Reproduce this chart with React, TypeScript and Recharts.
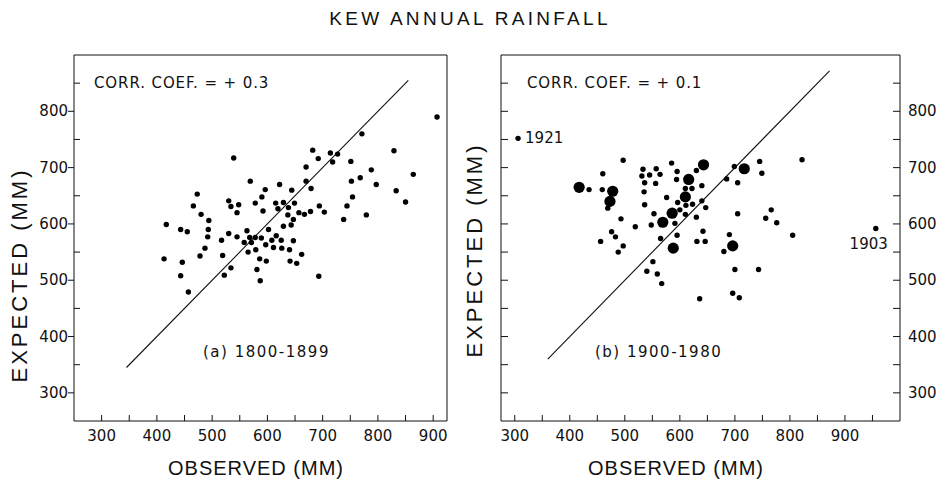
import React from "react";
import { ScatterChart, Scatter, XAxis, YAxis, ReferenceArea, ReferenceLine } from "recharts";

const INK = "#111";
const TICK_FONT = "'DejaVu Sans', sans-serif";
const TITLE_FONT = "'Liberation Sans', Arial, sans-serif";

// tick positions (labels only on the hundreds)
const obsTicksA = [300, 350, 400, 450, 500, 550, 600, 650, 700, 750, 800, 850, 900];
const obsTicksB = [300, 350, 400, 450, 500, 550, 600, 650, 700, 750, 800, 850, 900, 950];
const expTicks = [300, 350, 400, 450, 500, 550, 600, 650, 700, 750, 800, 850];
const labelledTicks = [300, 400, 500, 600, 700, 800, 900];

// (a) 1800-1899: [observed, expected] in mm
const years1800: [number, number][] = [
  [907, 790], [771, 760], [682, 731], [692, 716], [714, 726], [727, 724], [718, 710],
  [539, 717], [829, 730], [751, 711], [670, 701], [788, 696], [864, 688], [752, 676],
  [768, 682], [797, 670], [670, 676], [679, 663], [569, 676], [622, 670], [644, 660],
  [596, 661], [590, 648], [473, 653], [833, 659], [850, 639], [754, 648], [744, 632],
  [779, 616], [738, 608], [466, 632], [530, 641], [534, 631], [548, 634], [545, 620],
  [578, 637], [592, 623], [615, 637], [629, 638], [638, 629], [649, 637], [637, 616],
  [647, 608], [657, 620], [667, 617], [678, 622], [694, 632], [703, 621], [480, 617],
  [494, 606], [493, 590], [492, 577], [417, 599], [443, 590], [455, 586], [629, 596],
  [643, 598], [602, 590], [563, 588], [530, 583], [545, 577], [517, 571], [558, 567],
  [568, 576], [571, 567], [578, 576], [589, 575], [597, 563], [608, 571], [616, 579],
  [611, 558], [625, 571], [626, 557], [647, 570], [640, 554], [565, 550], [579, 554],
  [487, 557], [478, 543], [519, 544], [586, 538], [598, 534], [641, 534], [653, 530],
  [662, 546], [413, 538], [446, 532], [443, 508], [534, 522], [522, 509], [581, 519],
  [587, 499], [693, 507], [457, 479], [619, 627],
];

// (b) 1900-1980: ordinary years
const years1900: [number, number][] = [
  [497, 713], [585, 708], [460, 689], [533, 697], [557, 698], [531, 685], [545, 687],
  [564, 688], [595, 693], [594, 679], [630, 695], [536, 673], [556, 672], [435, 661],
  [459, 661], [535, 657], [610, 663], [622, 663], [640, 668], [576, 647], [596, 638],
  [623, 635], [640, 641], [647, 629], [611, 633], [536, 634], [469, 628], [493, 609],
  [553, 618], [600, 625], [610, 617], [630, 612], [591, 601], [519, 595], [548, 598],
  [476, 586], [483, 577], [456, 569], [497, 561], [488, 550], [565, 574], [595, 580],
  [631, 569], [642, 587], [646, 569], [551, 533], [540, 516], [559, 511], [567, 494],
  [636, 467], [680, 551], [690, 581], [705, 618], [700, 519], [743, 519], [696, 477],
  [708, 469], [685, 680], [699, 702], [705, 673], [745, 711], [749, 690], [822, 714],
  [766, 625], [756, 610], [776, 602], [805, 580],
];

// (b) large symbols
const years1900Big: [number, number][] = [
  [417, 665], [478, 658], [473, 640], [616, 679], [643, 705], [610, 648],
  [586, 619], [569, 603], [588, 557], [717, 698], [696, 561],
];

const namedYears = [
  { obs: 306, exp: 752, year: "1921" },
  { obs: 956, exp: 592, year: "1903" },
];

const diagA = [{ x: 345, y: 345 }, { x: 855, y: 855 }];
const diagB = [{ x: 360, y: 360 }, { x: 872, y: 872 }];

const toRows = (pts: [number, number][]) => pts.map(([obs, exp]) => ({ obs, exp }));

function BottomTick({ x, y, payload }: any) {
  const v = payload.value;
  return (
    <g>
      <line x1={x} x2={x} y1={y} y2={y - 6} stroke={INK} strokeWidth={1} />
      {labelledTicks.includes(v) && (
        <text x={x} y={y + 15} textAnchor="middle" dominantBaseline="central"
          fontFamily={TICK_FONT} fontSize={15} fill={INK}>{v}</text>
      )}
    </g>
  );
}

function LeftTickA({ x, y, payload }: any) {
  const v = payload.value;
  const major = labelledTicks.includes(v);
  return (
    <g>
      {major ? (
        <line x1={x - 6} x2={x} y1={y} y2={y} stroke={INK} />
      ) : (
        <line x1={x} x2={x + 6} y1={y} y2={y} stroke={INK} />
      )}
      {major && (
        <text x={x - 6} y={y} textAnchor="end" dominantBaseline="central"
          fontFamily={TICK_FONT} fontSize={15} fill={INK}>{v}</text>
      )}
    </g>
  );
}

function LeftTickB({ x, y }: any) {
  return <line x1={x} x2={x + 7} y1={y} y2={y} stroke={INK} />;
}

function RightTickB({ x, y, payload }: any) {
  const v = payload.value;
  return (
    <g>
      <line x1={x - 7} x2={x} y1={y} y2={y} stroke={INK} />
      {labelledTicks.includes(v) && (
        <text x={x + 8} y={y} textAnchor="start" dominantBaseline="central"
          fontFamily={TICK_FONT} fontSize={15} fill={INK}>{v}</text>
      )}
    </g>
  );
}

const smallDot = (p: any) => <circle cx={p.cx} cy={p.cy} r={2.7} fill="#000" />;
const bigDot = (p: any) => <circle cx={p.cx} cy={p.cy} r={5.6} fill="#000" />;
const namedDot = (p: any) => {
  const yr = p.payload.year;
  return (
    <g>
      <circle cx={p.cx} cy={p.cy} r={2.7} fill="#000" />
      {yr === "1921" ? (
        <text x={p.cx + 7} y={p.cy} dominantBaseline="central" fontFamily={TICK_FONT} fontSize={15} fill={INK}>{yr}</text>
      ) : (
        <text x={p.cx + 12} y={p.cy + 16} textAnchor="end" dominantBaseline="central" fontFamily={TICK_FONT} fontSize={15} fill={INK}>{yr}</text>
      )}
    </g>
  );
};

export default function App() {
  return (
    <div style={{ position: "absolute", left: 0, top: 0, width: 948, height: 485, background: "#fff" }}>
      <div style={{ position: "absolute", left: 0, top: 0 }}>
        <ScatterChart width={474} height={485} margin={{ top: 55, right: 27, bottom: 63, left: 73 }}>
          <XAxis type="number" dataKey="obs" domain={[250, 925]} ticks={obsTicksA} interval={0}
            height={1} tickSize={0} tickMargin={0} axisLine={false} tickLine={false}
            tick={(p: any) => <BottomTick {...p} />} allowDataOverflow />
          <YAxis type="number" dataKey="exp" domain={[250, 900]} ticks={expTicks} interval={0}
            width={1} tickSize={0} tickMargin={0} axisLine={false} tickLine={false}
            tick={(p: any) => <LeftTickA {...p} />} allowDataOverflow />
          <ReferenceArea x1={250} x2={925} y1={250} y2={900} fill="none" stroke={INK} strokeWidth={1} ifOverflow="visible" />
          <ReferenceLine segment={diagA} stroke={INK} strokeWidth={1.1} />
          <Scatter data={toRows(years1800)} shape={smallDot} isAnimationActive={false} />
        </ScatterChart>
      </div>
      <div style={{ position: "absolute", left: 474, top: 0 }}>
        <ScatterChart width={474} height={485} margin={{ top: 55, right: 47, bottom: 63, left: 26 }}>
          <XAxis type="number" dataKey="obs" domain={[275, 1000]} ticks={obsTicksB} interval={0}
            height={1} tickSize={0} tickMargin={0} axisLine={false} tickLine={false}
            tick={(p: any) => <BottomTick {...p} />} allowDataOverflow />
          <YAxis yAxisId="left" type="number" dataKey="exp" domain={[250, 900]} ticks={expTicks} interval={0}
            width={1} tickSize={0} tickMargin={0} axisLine={false} tickLine={false}
            tick={(p: any) => <LeftTickB {...p} />} allowDataOverflow />
          <YAxis yAxisId="right" orientation="right" type="number" domain={[250, 900]} ticks={expTicks} interval={0}
            width={1} tickSize={0} tickMargin={0} axisLine={false} tickLine={false}
            tick={(p: any) => <RightTickB {...p} />} allowDataOverflow />
          <ReferenceArea yAxisId="left" x1={275} x2={1000} y1={250} y2={900} fill="none" stroke={INK} strokeWidth={1} ifOverflow="visible" />
          <ReferenceLine yAxisId="left" segment={diagB} stroke={INK} strokeWidth={1.1} />
          <Scatter yAxisId="left" data={toRows(years1900)} shape={smallDot} isAnimationActive={false} />
          <Scatter yAxisId="left" data={toRows(years1900Big)} shape={bigDot} isAnimationActive={false} />
          <Scatter yAxisId="left" data={namedYears} shape={namedDot} isAnimationActive={false} />
        </ScatterChart>
      </div>
      <svg width={948} height={485} style={{ position: "absolute", left: 0, top: 0, pointerEvents: "none" }}>
        <g fontFamily={TITLE_FONT} fill={INK}>
          <text x={470} y={18} textAnchor="middle" dominantBaseline="central" fontSize={19} letterSpacing={3.3}>KEW ANNUAL RAINFALL</text>
          <text x={256} y={468} textAnchor="middle" dominantBaseline="central" fontSize={20} letterSpacing={1}>OBSERVED (MM)</text>
          <text x={676} y={468} textAnchor="middle" dominantBaseline="central" fontSize={20} letterSpacing={1}>OBSERVED (MM)</text>
          <text transform="translate(19,275) rotate(-90)" textAnchor="middle" dominantBaseline="central" fontSize={22} letterSpacing={3}>EXPECTED (MM)</text>
          <text transform="translate(474,250) rotate(-90)" textAnchor="middle" dominantBaseline="central" fontSize={22} letterSpacing={3}>EXPECTED (MM)</text>
        </g>
        <g fontFamily={TICK_FONT} fill={INK} fontSize={15}>
          <text x={94} y={83} dominantBaseline="central" letterSpacing={0.9}>CORR. COEF. = + 0.3</text>
          <text x={527} y={83} dominantBaseline="central" letterSpacing={0.9}>CORR. COEF. = + 0.1</text>
          <text x={203} y={352} dominantBaseline="central" letterSpacing={1.5}>(a) 1800-1899</text>
          <text x={595} y={352} dominantBaseline="central" letterSpacing={1.5}>(b) 1900-1980</text>
        </g>
      </svg>
    </div>
  );
}
